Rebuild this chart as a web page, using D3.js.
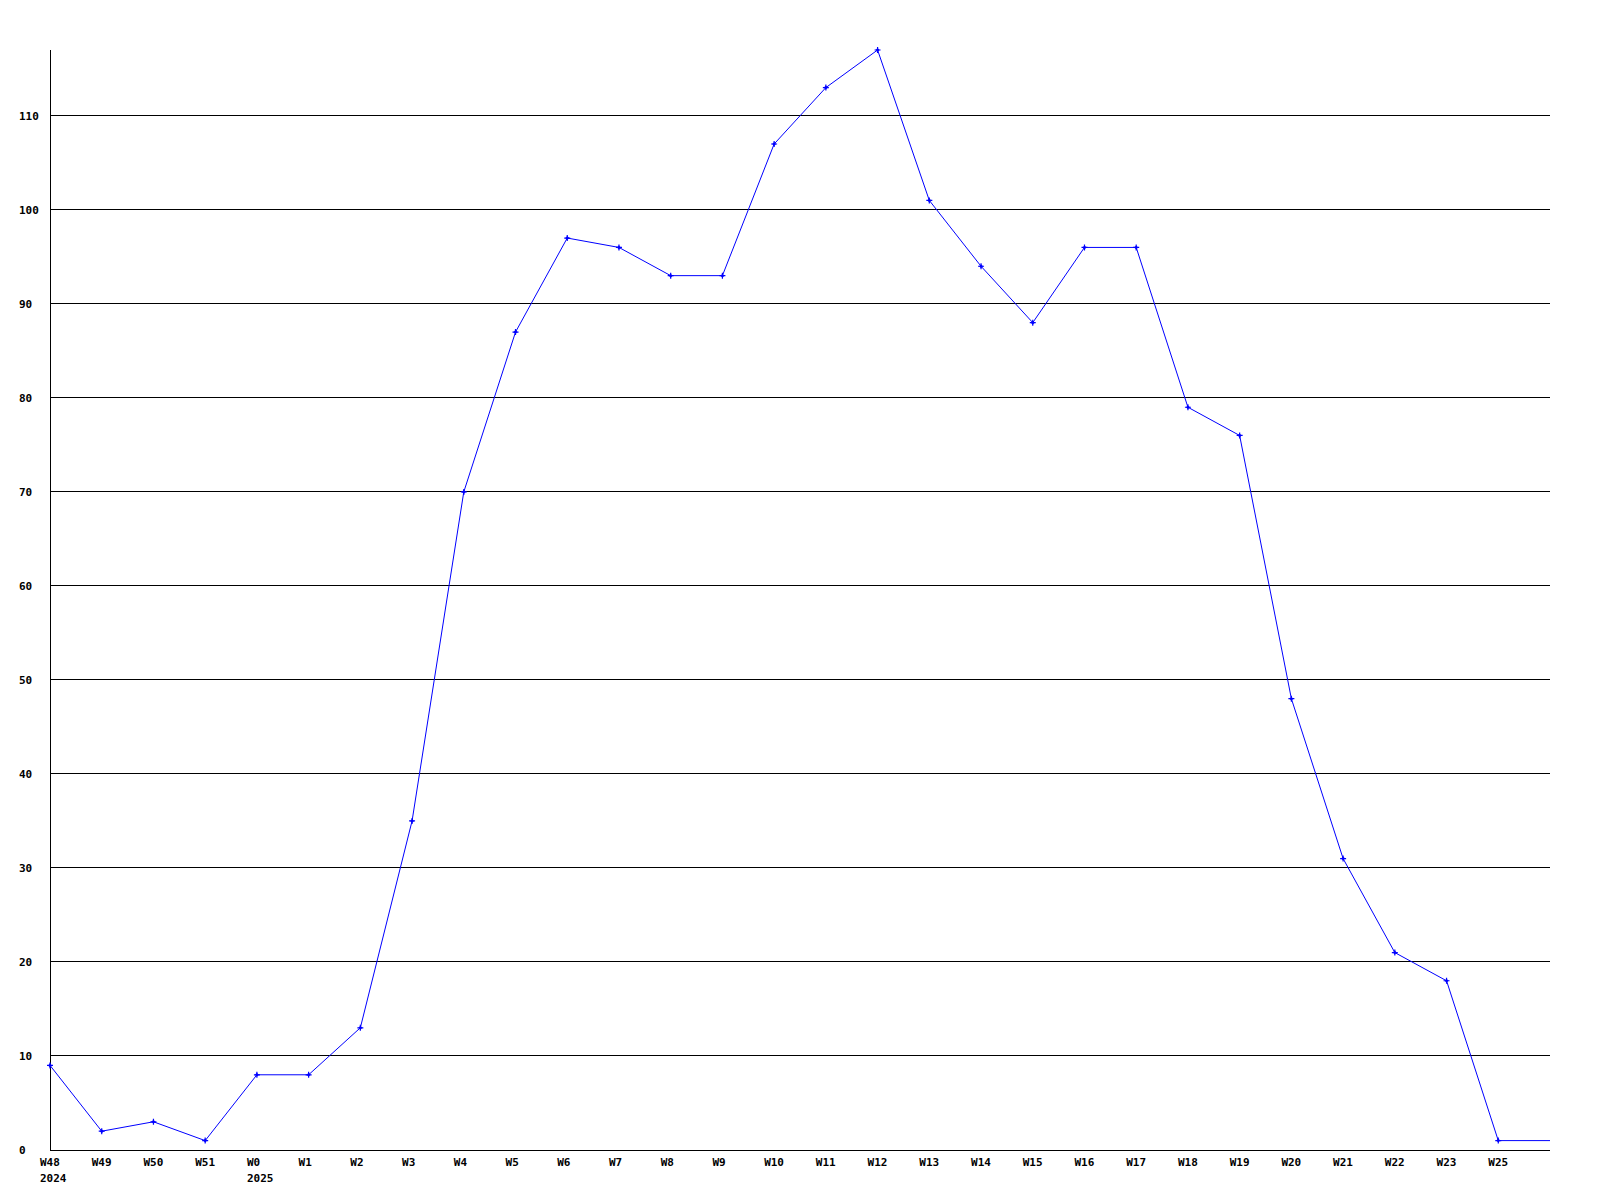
<!DOCTYPE html>
<html><head><meta charset="utf-8">
<script src="https://cdn.jsdelivr.net/npm/d3@7"></script>
<style>body{margin:0;background:#fff}</style>
</head><body>
<svg id="c" width="1600" height="1200"></svg>
<script>
const weekLabels = ["W48","W49","W50","W51","W0","W1","W2","W3","W4","W5","W6","W7","W8","W9","W10","W11","W12","W13","W14","W15","W16","W17","W18","W19","W20","W21","W22","W23","W25"];
const yearLabels = ["2024","","","","2025","","","","","","","","","","","","","","","","","","","","","","","",""];
const values = [9,2,3,1,8,8,13,35,70,87,97,96,93,93,107,113,117,101,94,88,96,96,79,76,48,31,21,18,1];
const yTicks = [0,10,20,30,40,50,60,70,80,90,100,110];

(function () {
const svg = d3.select("#c");
const mLeft = 50, mRight = 1550, mTop = 50, mBottom = 1150;
const x = d3.scaleLinear().domain([0, weekLabels.length]).range([mLeft, mRight]);
const y = d3.scaleLinear().domain([0, 117]).range([mBottom, mTop]);
const font = "'DejaVu Sans Mono', monospace";

// gridlines
svg.append("g").selectAll("line").data(yTicks.filter(d => d > 0)).join("line")
  .attr("x1", mLeft).attr("x2", mRight)
  .attr("y1", d => Math.floor(y(d)) + 0.5).attr("y2", d => Math.floor(y(d)) + 0.5)
  .attr("stroke", "#000").attr("stroke-width", 1).attr("shape-rendering", "crispEdges");

// axes lines
svg.append("line").attr("x1", mLeft + 0.5).attr("x2", mLeft + 0.5).attr("y1", mTop).attr("y2", mBottom + 0.5)
  .attr("stroke", "#000").attr("shape-rendering", "crispEdges");
svg.append("line").attr("x1", mLeft).attr("x2", mRight).attr("y1", mBottom + 0.5).attr("y2", mBottom + 0.5)
  .attr("stroke", "#000").attr("shape-rendering", "crispEdges");

// y labels
svg.append("g").selectAll("text").data(yTicks).join("text")
  .attr("x", 19).attr("y", d => y(d) + 4)
  .attr("font-family", font).attr("font-weight", "bold").attr("font-size", 11)
  .text(d => d);

// x labels
const xl = svg.append("g");
xl.selectAll("text.w").data(weekLabels).join("text").attr("class", "w")
  .attr("x", (d, i) => x(i) - 10).attr("y", 1166)
  .attr("font-family", font).attr("font-weight", "bold").attr("font-size", 11)
  .text(d => d);
xl.selectAll("text.yr").data(yearLabels).join("text").attr("class", "yr")
  .attr("x", (d, i) => x(i) - 10).attr("y", 1182)
  .attr("font-family", font).attr("font-weight", "bold").attr("font-size", 11)
  .text(d => d);

// line (last value extends to right edge)
const pts = values.map((v, i) => [x(i), y(v)]);
pts.push([x(values.length), y(values[values.length - 1])]);
svg.append("path").attr("d", d3.line()(pts))
  .attr("fill", "none").attr("stroke", "#0000ff").attr("stroke-width", 1);

// markers: small plus with filled centre
const mk = svg.append("g");
mk.selectAll("path.d").data(values).join("path").attr("class", "d")
  .attr("transform", (d, i) => `translate(${x(i)},${y(d)})`)
  .attr("d", "M-2,0L0,-2L2,0L0,2Z")
  .attr("fill", "#0000ff");
mk.selectAll("path.p").data(values).join("path").attr("class", "p")
  .attr("transform", (d, i) => `translate(${x(i)},${y(d)})`)
  .attr("d", "M-3,0H3M0,-3V3")
  .attr("stroke", "#0000ff").attr("stroke-width", 1.2);
})();
</script>
</body></html>
